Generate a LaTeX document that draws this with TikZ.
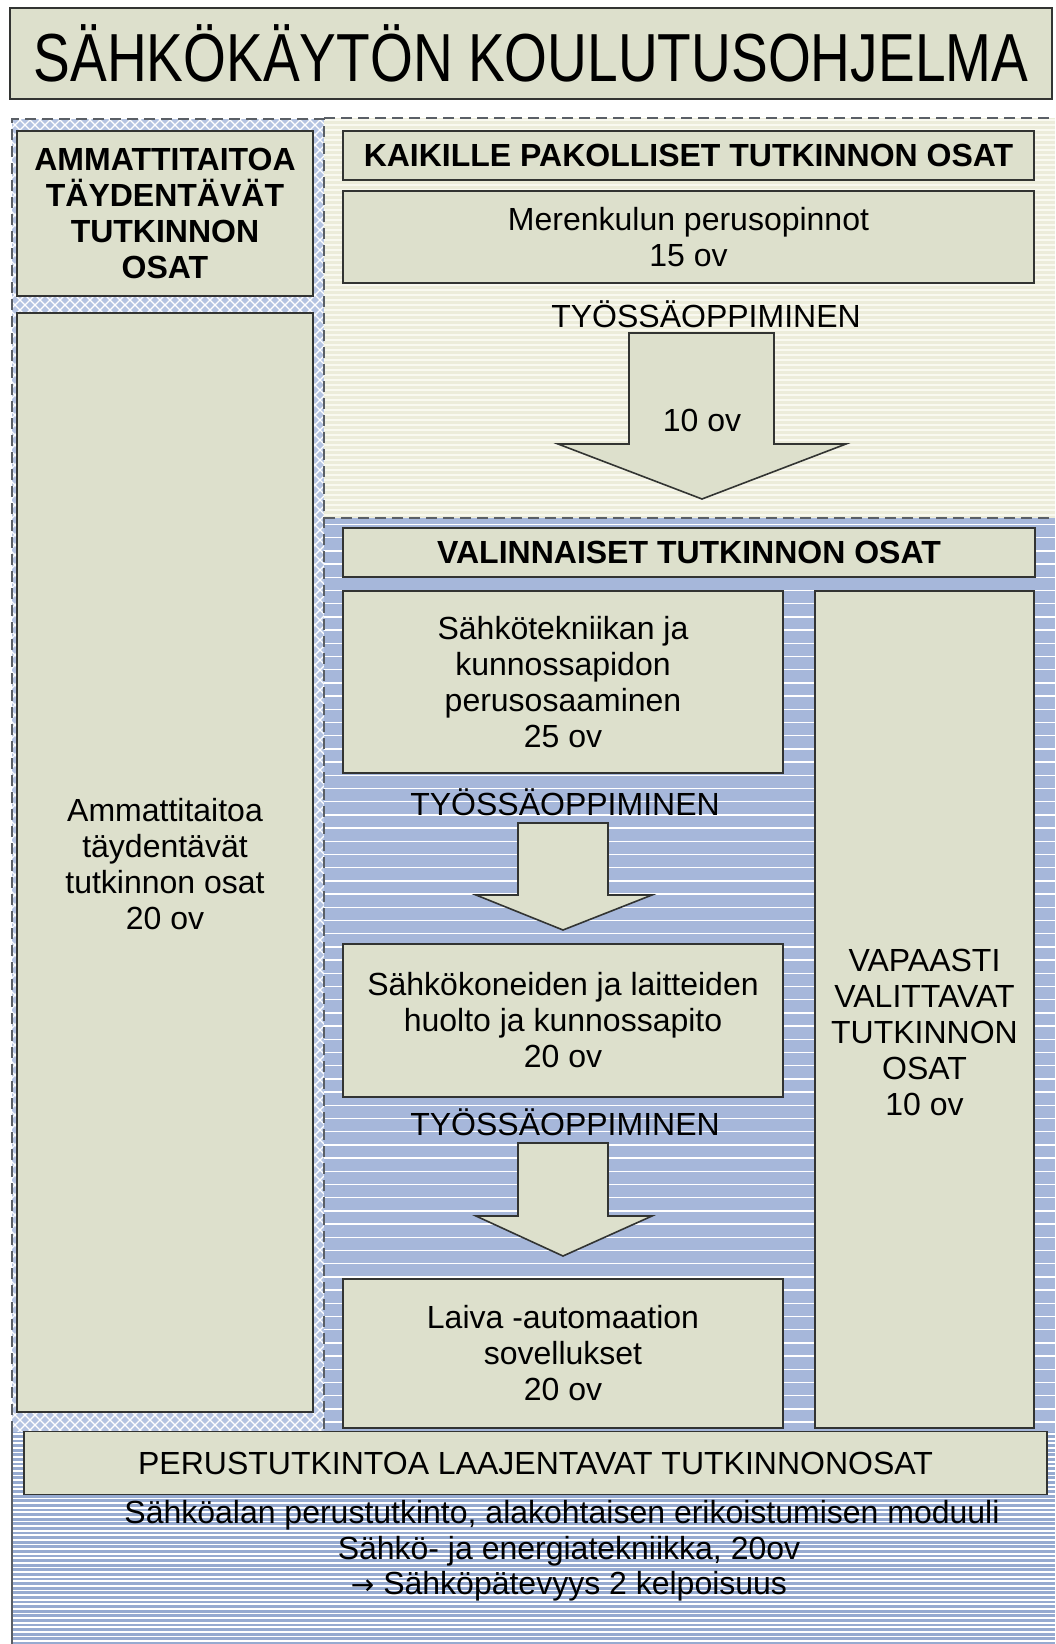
\documentclass[tikz,border=0pt]{standalone}
\usepackage{fontspec}
\setmainfont{Liberation Sans}
\newfontfamily\arrowfont{DejaVu Sans}
\usepackage{graphicx}
\definecolor{boxfill}{RGB}{221,224,204}
\definecolor{boxline}{RGB}{50,52,50}
\definecolor{dashcol}{RGB}{90,95,102}
\definecolor{crossbase}{RGB}{180,195,225}
\definecolor{creambase}{RGB}{236,236,218}
\definecolor{creamline}{RGB}{249,249,240}
\definecolor{bluebase}{RGB}{166,183,218}
\definecolor{bluebase2}{RGB}{150,170,208}
\newcommand{\fsreg}{\fontsize{32}{36}\selectfont}
\tikzset{
  box/.style={draw=boxline, line width=1.6, fill=boxfill, inner sep=0pt, align=center, font=\fsreg},
  boldbox/.style={box, font=\fsreg\bfseries},
  dashb/.style={draw=dashcol, line width=2.8, dash pattern=on 11pt off 6pt},
  blockarrow/.style={draw=boxline, line width=1.6, fill=boxfill, line join=miter},
  plain/.style={inner sep=0pt, align=center, font=\fsreg},
  bline/.style={inner sep=0pt, anchor=base, font=\fsreg}
}
\begin{document}
\begin{tikzpicture}[x=1pt,y=-1pt]
\useasboundingbox (0,0) rectangle (1055,1644);
\fill[white] (0,0) rectangle (1055,1644);

% ---------- background regions ----------
% left column: crosshatch
\fill[crossbase] (12,119) rectangle (324,1432);
\begin{scope}
  \clip (12,119) rectangle (324,1432);
  \foreach \c in {-1420,-1410,...,210} {
    \draw[white, line width=1.1] (\c+119,119) -- ++(1330,1330);
  }
  \foreach \d in {130,140,...,1760} {
    \draw[white, line width=1.1] (\d-119,119) -- ++(-1330,1330);
  }
\end{scope}
% top right: cream stripes
\fill[creambase] (324,118) rectangle (1055,518);
\begin{scope}
  \clip (324,118) rectangle (1055,518);
  \foreach \y in {120,125,...,520} {
    \draw[creamline, line width=2] (324,\y) -- (1055,\y);
  }
\end{scope}
% bottom right: blue with thin white lines
\fill[bluebase] (324,518) rectangle (1055,1432);
\begin{scope}
  \clip (324,518) rectangle (1055,1432);
  \foreach \y in {524.5,537.7,...,1440} {
    \draw[white, line width=1.4] (324,\y) -- (1055,\y);
  }
\end{scope}
% bottom: dense blue/white stripes
\fill[bluebase2] (12,1432) rectangle (1055,1644);
\begin{scope}
  \clip (12,1432) rectangle (1055,1644);
  \foreach \y in {1434,1438.6,...,1650} {
    \draw[white, line width=1.8] (12,\y) -- (1055,\y);
  }
\end{scope}
\draw[dashcol, line width=1.5] (12,1432) -- (12,1644);

% dashed borders
\draw[dashb] (12,1432) -- (12,119) -- (324,119) -- (324,1432);
\draw[dashb] (324,118) -- (1055,118);
\draw[dashb] (324,518) -- (1055,518);

% ---------- title ----------
\node[box, minimum width=1042, minimum height=91] (title) at (531,53.5)
  {\scalebox{0.81}[1]{\fontsize{68}{70}\selectfont SÄHKÖKÄYTÖN KOULUTUSOHJELMA}};

% ---------- left column ----------
\node[boldbox, minimum width=296, minimum height=165] (lhead) at (165,213.5)
  {AMMATTITAITOA\\TÄYDENTÄVÄT\\TUTKINNON\\OSAT};
\node[box, minimum width=296, minimum height=1099] (lbody) at (165,862.5) {};
\node[plain] (lbodytxt) at (165,864) {Ammattitaitoa\\täydentävät\\tutkinnon osat\\20 ov};

% ---------- compulsory ----------
\node[boldbox, minimum width=691, minimum height=49] (kaik) at (688.5,155.5)
  {KAIKILLE PAKOLLISET TUTKINNON OSAT};
\node[box, minimum width=691, minimum height=92] (meren) at (688.5,237)
  {Merenkulun perusopinnot\\15 ov};
\node[plain] (tyo1) at (706,314) {TYÖSSÄOPPIMINEN};
\draw[blockarrow] (629,333) -- (774,333) -- (774,444) -- (846,444) -- (702,499)
  -- (558,444) -- (629,444) -- cycle;
\node[plain] (tenov) at (702,420) {10 ov};

% ---------- optional ----------
\node[boldbox, minimum width=692, minimum height=49] (valin) at (689,552.5)
  {VALINNAISET TUTKINNON OSAT};
\node[box, minimum width=440, minimum height=182] (s1) at (563,682)
  {Sähkötekniikan ja\\kunnossapidon\\perusosaaminen\\25 ov};
\node[plain] (tyo2) at (565,802) {TYÖSSÄOPPIMINEN};
\draw[blockarrow] (518,823) -- (608,823) -- (608,895) -- (652,895) -- (563,930)
  -- (476,895) -- (518,895) -- cycle;
\node[box, minimum width=440, minimum height=153] (s2) at (563,1020.5)
  {Sähkökoneiden ja laitteiden\\huolto ja kunnossapito\\20 ov};
\node[plain] (tyo3) at (565,1122) {TYÖSSÄOPPIMINEN};
\draw[blockarrow] (518,1143) -- (608,1143) -- (608,1216) -- (652,1216) -- (563,1256)
  -- (476,1216) -- (518,1216) -- cycle;
\node[box, minimum width=440, minimum height=149] (laiva) at (563,1353.5)
  {Laiva -automaation\\sovellukset\\20 ov};
\node[box, minimum width=219, minimum height=837] (vapaa) at (924.5,1009.5) {};
\node[plain] (vapaatxt) at (924.5,1032)
  {VAPAASTI\\VALITTAVAT\\TUTKINNON\\OSAT\\10 ov};

% ---------- bottom ----------
\node[box, minimum width=1023, minimum height=63] (perus) at (535.5,1463)
  {PERUSTUTKINTOA LAAJENTAVAT TUTKINNONOSAT};
\node[bline] (b1) at (562,1523)
  {Sähköalan perustutkinto, alakohtaisen erikoistumisen moduuli};
\node[bline] (b2) at (569,1559) {Sähkö- ja energiatekniikka, 20ov};
\node[bline] (b3) at (569,1594)
  {{\arrowfont\fontsize{28}{30}\selectfont →} Sähköpätevyys 2 kelpoisuus};
\end{tikzpicture}
\end{document}
